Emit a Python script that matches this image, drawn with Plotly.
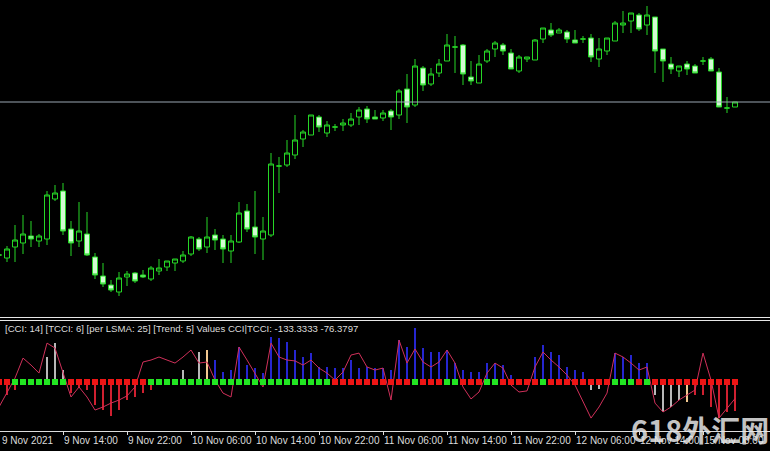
import plotly.graph_objects as go

W, H = 770, 451

# ---------------- data ----------------
bars = list(range(93))

opens = [1820.0, 1819.4, 1821.6, 1822.4, 1823.8, 1822.8, 1823.2, 1831.2, 1832.8, 1825.2,
         1822.8, 1824.2, 1819.6, 1815.8, 1814.0, 1812.6, 1815.6, 1816.4, 1816.0, 1815.2,
         1816.8, 1817.6, 1818.4, 1818.8, 1820.2, 1823.2, 1821.6, 1824.0, 1823.2, 1820.8,
         1822.6, 1828.8, 1825.6, 1823.2, 1824.0, 1837.8, 1838.0, 1840.0, 1843.2, 1844.0,
         1847.6, 1844.4, 1845.6, 1846.0, 1846.0, 1847.6, 1849.2, 1847.6, 1847.4, 1848.8,
         1848.0, 1853.2, 1850.0, 1857.4, 1854.2, 1856.4, 1858.8, 1861.6, 1862.0, 1855.6,
         1854.4, 1858.8, 1861.2, 1862.0, 1860.4, 1856.8, 1859.2, 1859.0, 1863.2, 1865.0,
         1864.4, 1864.6, 1863.0, 1863.2, 1863.4, 1859.2, 1860.8, 1862.8, 1866.0, 1866.8,
         1868.0, 1866.0, 1867.6, 1861.2, 1858.2, 1856.8, 1858.2, 1857.8, 1858.8, 1859.2,
         1856.6, 1849.4, 1849.6]
highs = [1821.0, 1821.8, 1826.0, 1828.0, 1826.8, 1824.2, 1832.8, 1834.0, 1834.4, 1826.8,
         1830.6, 1828.6, 1820.4, 1818.4, 1815.0, 1816.6, 1816.8, 1816.6, 1817.0, 1817.8,
         1819.2, 1818.8, 1819.2, 1820.8, 1823.8, 1823.6, 1827.6, 1825.2, 1824.0, 1824.0,
         1830.6, 1830.2, 1832.8, 1827.6, 1840.4, 1839.6, 1843.0, 1848.0, 1845.0, 1848.0,
         1848.0, 1846.8, 1846.2, 1847.2, 1848.4, 1849.6, 1849.8, 1849.0, 1849.0, 1849.2,
         1853.2, 1856.2, 1859.2, 1857.8, 1857.4, 1859.2, 1864.2, 1863.8, 1862.2, 1858.8,
         1860.0, 1861.2, 1862.8, 1862.4, 1861.2, 1860.0, 1859.6, 1863.2, 1865.4, 1866.4,
         1865.4, 1865.0, 1865.0, 1863.8, 1864.2, 1863.4, 1863.4, 1866.8, 1868.8, 1868.4,
         1868.4, 1869.8, 1867.6, 1861.2, 1859.6, 1857.8, 1858.8, 1858.2, 1859.6, 1859.6,
         1857.4, 1851.6, 1850.6]
lows = [1819.0, 1818.6, 1818.6, 1820.2, 1821.6, 1821.6, 1822.0, 1830.8, 1824.0, 1819.8,
        1821.6, 1819.8, 1815.2, 1813.6, 1812.6, 1811.8, 1813.8, 1814.4, 1815.4, 1814.8,
        1816.0, 1816.8, 1816.8, 1818.4, 1819.8, 1820.8, 1820.4, 1821.0, 1818.4, 1818.4,
        1822.4, 1824.6, 1820.2, 1819.0, 1823.6, 1832.4, 1837.6, 1839.2, 1841.6, 1844.0,
        1844.6, 1843.6, 1844.8, 1844.8, 1845.6, 1846.0, 1846.4, 1847.2, 1846.8, 1845.0,
        1847.2, 1846.4, 1849.6, 1852.8, 1853.8, 1855.6, 1858.8, 1856.4, 1854.0, 1854.0,
        1854.4, 1858.4, 1859.6, 1860.0, 1857.2, 1856.4, 1858.6, 1859.0, 1862.4, 1863.6,
        1864.4, 1862.4, 1862.4, 1862.4, 1858.6, 1857.6, 1860.0, 1862.8, 1864.4, 1864.4,
        1864.8, 1864.0, 1856.4, 1854.6, 1856.2, 1855.6, 1856.0, 1856.4, 1858.0, 1856.8,
        1849.6, 1848.4, 1849.6]
closes = [1820.0, 1821.2, 1823.0, 1824.2, 1823.2, 1823.8, 1832.0, 1832.4, 1824.8, 1822.4,
          1824.8, 1820.0, 1816.0, 1814.2, 1813.0, 1815.4, 1816.2, 1814.8, 1815.6, 1817.4,
          1817.4, 1818.8, 1819.2, 1820.0, 1823.6, 1821.2, 1823.6, 1823.0, 1821.2, 1822.8,
          1828.4, 1825.2, 1823.6, 1824.8, 1838.2, 1837.8, 1840.4, 1843.0, 1844.6, 1848.0,
          1845.6, 1846.0, 1845.6, 1846.4, 1847.2, 1849.0, 1847.2, 1847.2, 1848.4, 1847.6,
          1852.8, 1849.6, 1857.8, 1854.0, 1856.2, 1858.2, 1862.0, 1861.6, 1856.2, 1854.8,
          1858.2, 1860.8, 1862.4, 1860.8, 1857.2, 1859.6, 1859.6, 1863.0, 1865.4, 1864.0,
          1865.0, 1863.2, 1862.4, 1863.2, 1859.6, 1861.2, 1863.4, 1866.4, 1866.4, 1868.4,
          1865.2, 1868.0, 1860.8, 1858.8, 1857.2, 1857.8, 1857.2, 1856.4, 1858.8, 1856.8,
          1849.6, 1849.4, 1850.6]

# CCI histogram and TCCI line
cci = [-83, -60, -37, 0, 0, 0, 115, 179, 55, -51,
       -28, -37, -106, -129, -156, -129, -83, -69, -51, -37,
       0, 0, 0, 55, 0, 138, 147, 101, 46, 55,
       161, 78, 64, 41, 207, 202, 184, 147, 115, 133,
       69, 69, 64, 64, 101, 64, 69, 64, 64, 55,
       193, 161, 248, 156, 138, 138, 147, 87, 55, 46,
       46, 87, 87, 78, 32, 0, 0, 115, 170, 138,
       124, 69, 55, 46, -37, -32, 0, 133, 115, 124,
       87, 87, -60, -138, -115, -83, -92, -60, -60, -115,
       -166, -138, -133.3333]
tcci = [-115, -46, 18, 110, 78, 41, 179, 156, 41, -69,
        -23, -69, -129, -115, -97, -83, -64, -23, 92, 101,
        115, 101, 87, 115, 147, 87, 92, 9, -51, -69,
        161, 101, 41, -23, 179, 115, 101, 97, 78, 101,
        64, 41, 9, 46, 124, 133, 69, 55, 64, -83,
        193, 87, 152, 92, 69, 92, 147, 87, -23, -78,
        -46, 41, 87, 64, -14, -46, -41, 69, 138, 101,
        69, 32, -14, -92, -166, -115, -51, 133, 115, 87,
        55, 69, -97, -138, -115, -83, -60, -37, 133, 9,
        -166, -120, -76.3797]
# histogram colour state: r=down, b=up, w=weak, o=turn
hist_state = (["r"] * 3 + ["b"] * 3 + ["w"] * 3 + ["r"] * 11 + ["w"] * 6 + ["o"]
              + ["b"] * 47 + ["w"] * 3 + ["b"] * 5 + ["w"] * 4 + ["o"] + ["r"] * 6)
# trend squares: g=up, r=down
trend = (["r"] * 2 + ["g"] * 7 + ["r"] * 10 + ["g"] * 23 + ["r"] * 10 + ["g"]
         + ["r"] * 3 + ["g"] * 2 + ["r"] * 3 + ["g"] * 2 + ["r"] * 5 + ["g"]
         + ["r"] * 8 + ["g"] * 3 + ["r"] + ["g"] + ["r"] * 11)

tick_idx = [8, 16, 24, 32, 40, 48, 56, 64, 72, 80, 88]
tick_text = ["9 Nov 14:00", "9 Nov 22:00", "10 Nov 06:00", "10 Nov 14:00",
             "10 Nov 22:00", "11 Nov 06:00", "11 Nov 14:00", "11 Nov 22:00",
             "12 Nov 06:00", "12 Nov 14:00", "15 Nov 00:00"]
first_label = "9 Nov 2021"
params = {"CCI": 14, "TCCI": 6, "per LSMA": 25, "Trend": 5}

# ---------------- style ----------------
GREEN = "#26d626"
BEAR_FILL = "#d2fad2"
HIST_COL = {"r": "#d02030", "b": "#2626d0", "w": "#b8b8b8", "o": "#f2c890"}
SQ_COL = {"r": "#ee1515", "g": "#22e622"}
LINE_COL = "#d0305a"
TXT = "#dcdcdc"
FONT = "Liberation Sans"


def py(px):
    return 1 - px / H


xr = [0.125, 0.125 + W / 8]

fig = go.Figure()
fig.add_trace(go.Candlestick(
    x=bars, open=opens, high=highs, low=lows, close=closes,
    increasing=dict(line=dict(color=GREEN, width=1), fillcolor="black"),
    decreasing=dict(line=dict(color=GREEN, width=1), fillcolor=BEAR_FILL),
    whiskerwidth=0, hoverinfo="skip", xaxis="x", yaxis="y"))

fig.add_trace(go.Bar(
    x=bars, y=cci, width=0.125,
    marker=dict(color=[HIST_COL[s] for s in hist_state], line=dict(width=0)),
    hoverinfo="skip", xaxis="x2", yaxis="y2"))
fig.add_trace(go.Scatter(
    x=bars, y=tcci, mode="lines", line=dict(color=LINE_COL, width=1),
    hoverinfo="skip", xaxis="x2", yaxis="y2"))
fig.add_trace(go.Scatter(
    x=bars, y=[0] * len(bars), mode="markers",
    marker=dict(symbol="square", size=6, color=[SQ_COL[s] for s in trend],
                line=dict(width=0)),
    hoverinfo="skip", xaxis="x2", yaxis="y2"))

label = " ".join(f"[{k}: {v}]" for k, v in params.items())
label += f" Values CCI|TCCI: {cci[-1]:.4f} {tcci[-1]:.4f}"

fig.update_layout(
    width=W, height=H, margin=dict(l=0, r=0, t=0, b=0, autoexpand=False),
    paper_bgcolor="black", plot_bgcolor="black", showlegend=False,
    boxgap=0.375, boxgroupgap=0,
    xaxis=dict(domain=[0, 1], range=xr, anchor="y", showticklabels=False,
               showgrid=False, zeroline=False, rangeslider=dict(visible=False),
               automargin=False),
    yaxis=dict(domain=[py(315), 1], range=[1871 - 0.2 * 315, 1871], showgrid=False,
               zeroline=False, showticklabels=False, automargin=False),
    xaxis2=dict(domain=[0, 1], range=xr, anchor="y2", tickvals=tick_idx,
                ticktext=tick_text, ticks="outside", ticklen=3, tickcolor=TXT,
                showline=True, linecolor=TXT, linewidth=1, tickangle=0,
                ticklabelposition="outside right", automargin=False,
                tickfont=dict(family=FONT, size=10, color=TXT),
                showgrid=False, zeroline=False),
    yaxis2=dict(domain=[py(431), py(320)], range=[(382 - 431) * 4.6, (382 - 320) * 4.6],
                showgrid=False, zeroline=False, showticklabels=False, automargin=False),
    shapes=[
        dict(type="line", xref="paper", x0=0, x1=1, yref="y", y0=closes[-1], y1=closes[-1],
             line=dict(color="#9aa6b2", width=1)),
        dict(type="line", xref="paper", x0=0, x1=1, yref="paper", y0=py(317.5), y1=py(317.5),
             line=dict(color="#e8e8e8", width=1)),
        dict(type="line", xref="paper", x0=0, x1=1, yref="paper", y0=py(320.5), y1=py(320.5),
             line=dict(color="#e8e8e8", width=1)),
    ],
    annotations=[
        dict(text=label, xref="paper", yref="paper", x=3 / W, y=py(328.5),
             xanchor="left", yanchor="middle", showarrow=False,
             font=dict(family=FONT, size=9.6, color=TXT)),
        dict(text=first_label, xref="paper", yref="paper", x=0, y=py(440),
             xanchor="left", yanchor="middle", showarrow=False,
             font=dict(family=FONT, size=10, color=TXT)),
        dict(text="<b>618外汇网</b>", xref="paper", yref="paper", x=700 / W, y=py(429),
             xanchor="center", yanchor="middle", showarrow=False,
             font=dict(family="Noto Sans CJK SC", size=29, color="rgba(232,232,232,0.85)")),
    ],
)

fig.write_html("out.html", config={"displayModeBar": False},
               post_script="document.body.style.margin='0';document.body.style.overflow='hidden';")
